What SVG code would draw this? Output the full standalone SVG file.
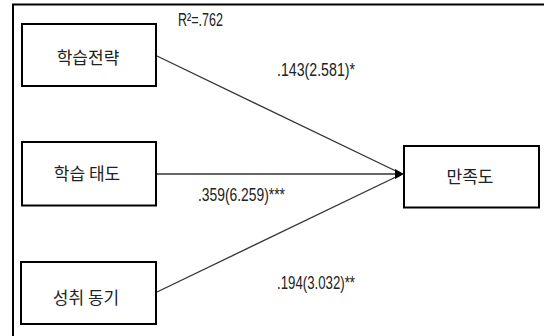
<svg xmlns="http://www.w3.org/2000/svg" width="544" height="336" viewBox="0 0 544 336">
<style>
.box{fill:#fff;stroke:#000;stroke-width:2}
.kr{font-family:"Noto Sans CJK KR","Noto Sans",sans-serif;font-size:17px;fill:#222;text-anchor:middle;dominant-baseline:central}
.num{font-family:"Liberation Sans","Noto Sans",sans-serif;font-size:17.5px;fill:#222}
.edge{stroke:#333;stroke-width:1.3;fill:none}
.frame{stroke:#000;stroke-width:2;fill:none}
</style>
<rect width="544" height="336" fill="#fff"/>
<path class="frame" d="M13 336 V4.5 H544"/>
<g id="connectors">
<line class="edge" x1="157" y1="56" x2="400" y2="173"/>
<line class="edge" x1="156" y1="174" x2="398" y2="174"/>
<line class="edge" x1="157" y1="292" x2="400" y2="175"/>
<polygon points="404,174 395,169 395,179" fill="#000"/>
</g>
<g id="node-strategy">
<rect class="box" x="22" y="24" width="134" height="62"/>
<text class="kr" x="88" y="56">학습전략</text>
</g>
<g id="node-attitude">
<rect class="box" x="22" y="142" width="134" height="63.5"/>
<text class="kr" x="87" y="172">학습 태도</text>
</g>
<g id="node-motivation">
<rect class="box" x="21" y="262" width="135" height="62"/>
<text class="kr" x="86" y="296">성취 동기</text>
</g>
<g id="node-satisfaction">
<rect class="box" x="404" y="146" width="135" height="61.5"/>
<text class="kr" x="470" y="175">만족도</text>
</g>
<g id="labels">
<text class="num" x="178" y="26" textLength="45" lengthAdjust="spacingAndGlyphs">R²=.762</text>
<text class="num" x="277" y="76" textLength="78" lengthAdjust="spacingAndGlyphs">.143(2.581)*</text>
<text class="num" x="198" y="201" textLength="87" lengthAdjust="spacingAndGlyphs">.359(6.259)***</text>
<text class="num" x="277" y="289" textLength="78" lengthAdjust="spacingAndGlyphs">.194(3.032)**</text>
</g>
</svg>
